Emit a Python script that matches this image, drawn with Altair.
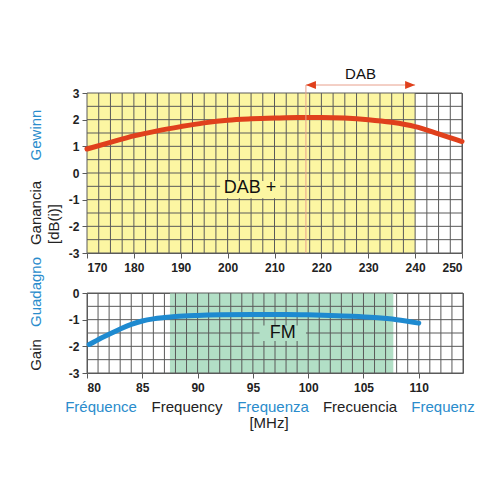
import altair as alt
import pandas as pd

# ---------------- data ----------------
dab_freq = [170, 175, 180, 185, 190, 195, 200, 205, 210, 215, 220, 225, 230, 235, 240, 245, 250]
dab_gain = [0.90, 1.15, 1.39, 1.58, 1.74, 1.88, 1.98, 2.03, 2.06, 2.08, 2.08, 2.06, 2.00, 1.90, 1.74, 1.47, 1.18]

fm_freq = [80.2, 81, 82, 83, 84, 85, 86, 87, 88, 90, 92, 95, 98, 100, 102, 104, 106, 108, 110]
fm_gain = [-1.93, -1.75, -1.55, -1.35, -1.18, -1.05, -0.97, -0.92, -0.88, -0.84, -0.82, -0.81, -0.81, -0.82, -0.84, -0.87, -0.92, -1.00, -1.13]

dab_plus_band = [170, 240]
dab_band = [216.7, 240]
fm_band = [87.5, 107.7]

dab_plus_label = ["DAB +"]
dab_plus_pos = [204.8, -0.56]
dab_plus_box = [198.4, 211.2, -0.30, -0.95]
dab_label = ["DAB"]
fm_label = ["FM"]
fm_pos = [97.7, -1.5]
fm_box = [95.6, 99.8, -1.22, -1.80]

top_x_ticks = [170, 180, 190, 200, 210, 220, 230, 240, 250]
top_y_ticks = [-3, -2, -1, 0, 1, 2, 3]
bot_x_ticks = [80, 85, 90, 95, 100, 105, 110]
bot_y_ticks = [-3, -2, -1, 0]

top_x_grid = [170 + 2.5 * i for i in range(33)]
top_y_grid = [-3 + 0.5 * i for i in range(13)]
bot_x_grid = [80 + i for i in range(35)]
bot_y_grid = [-3 + 0.5 * i for i in range(7)]

y_title_words = ["Gewinn", "Ganancia", "[dB(i)]", "Guadagno", "Gain"]
y_title_colors = ["#2a8ccc", "#222222", "#222222", "#2a8ccc", "#222222"]
x_title_words = ["Fréquence", "Frequency", "Frequenza", "Frecuencia", "Frequenz"]
x_title_colors = ["#2a8ccc", "#222222", "#2a8ccc", "#222222", "#2a8ccc"]
unit_label = "[MHz]"

# ---------------- styles ----------------
FONT = "Liberation Sans"
GRID = "#5a5a5a"
YELLOW = "#fcf6a2"
GREEN = "#b2dfc6"
RED = "#e0401c"
BLUE = "#1e8ad0"

W1, H1 = 375, 160
W2, H2 = 376, 80


def axis(vals, ylike):
    return alt.Axis(
        values=vals, title=None, grid=False, domain=False, ticks=True,
        tickSize=5, tickColor=GRID, labelPadding=3 if ylike else 4,
        labelFont=FONT, labelFontSize=12, labelFontWeight="bold",
        labelColor="#222", labelExpr="'' + datum.value",
    )


# ---------------- top panel ----------------
xs1 = alt.Scale(domain=[170, 250], nice=False, zero=False)
ys1 = alt.Scale(domain=[-3, 3], nice=False, zero=False)
xa1 = axis(top_x_ticks, False)
ya1 = axis(top_y_ticks, True)

band1 = alt.Chart(pd.DataFrame({"a": [dab_plus_band[0]], "b": [dab_plus_band[1]]})).mark_rect(
    color=YELLOW).encode(x=alt.X("a:Q", scale=xs1, axis=xa1), x2="b:Q",
                         y=alt.value(0), y2=alt.value(H1))
vgrid1 = alt.Chart(pd.DataFrame({"g": top_x_grid})).mark_rule(color=GRID, strokeWidth=1).encode(
    x=alt.X("g:Q", scale=xs1, axis=xa1))
hgrid1 = alt.Chart(pd.DataFrame({"g": top_y_grid})).mark_rule(color=GRID, strokeWidth=1).encode(
    y=alt.Y("g:Q", scale=ys1, axis=ya1))
box1 = alt.Chart(pd.DataFrame({"x0": [dab_plus_box[0]], "x1": [dab_plus_box[1]],
                               "y0": [dab_plus_box[2]], "y1": [dab_plus_box[3]]})).mark_rect(
    color=YELLOW).encode(x=alt.X("x0:Q", scale=xs1, axis=xa1), x2="x1:Q",
                         y=alt.Y("y0:Q", scale=ys1, axis=ya1), y2="y1:Q")
txt1 = alt.Chart(pd.DataFrame({"x": [dab_plus_pos[0]], "y": [dab_plus_pos[1]], "t": dab_plus_label})).mark_text(
    font=FONT, fontSize=18, color="#111").encode(
    x=alt.X("x:Q", scale=xs1, axis=xa1), y=alt.Y("y:Q", scale=ys1, axis=ya1), text="t:N")
line1 = alt.Chart(pd.DataFrame({"f": dab_freq, "g": dab_gain})).mark_line(
    color=RED, strokeWidth=5, interpolate="monotone", strokeCap="round").encode(
    x=alt.X("f:Q", scale=xs1, axis=xa1), y=alt.Y("g:Q", scale=ys1, axis=ya1))

band_df = pd.DataFrame({"a": [dab_band[0]], "b": [dab_band[1]], "t": dab_label})
vline = alt.Chart(band_df).mark_rule(color="#e8a08c", strokeWidth=1).encode(
    x=alt.X("a:Q", scale=xs1, axis=xa1), y=alt.value(-8), y2=alt.value(H1))
arrow = alt.Chart(band_df).mark_rule(color="#e8a08c", strokeWidth=1).encode(
    x=alt.X("a:Q", scale=xs1, axis=xa1), x2="b:Q", y=alt.value(-8))
head_l = alt.Chart(band_df).mark_point(
    shape="M0,0L2,-0.8L2,0.8Z", filled=True, size=100, color=RED, opacity=1).encode(
    x=alt.X("a:Q", scale=xs1, axis=xa1), y=alt.value(-8))
head_r = alt.Chart(band_df).mark_point(
    shape="M0,0L-2,-0.8L-2,0.8Z", filled=True, size=100, color=RED, opacity=1).encode(
    x=alt.X("b:Q", scale=xs1, axis=xa1), y=alt.value(-8))
dab_txt = alt.Chart(band_df).transform_calculate(m="(datum.a + datum.b) / 2").mark_text(
    font=FONT, fontSize=15, color="#111").encode(
    x=alt.X("m:Q", scale=xs1, axis=xa1), y=alt.value(-19), text="t:N")

# rotated y-titles (positions relative to top plot area)
ytitle_pos = [(-51, 42), (-51, 120), (-33, 131), (-51, 199), (-51, 262)]
ytitles = []
for word, col, (px, py) in zip(y_title_words, y_title_colors, ytitle_pos):
    ytitles.append(
        alt.Chart(pd.DataFrame({"t": [word]})).mark_text(
            font=FONT, fontSize=15, color=col, angle=270, align="center", baseline="middle").encode(
            x=alt.value(px), y=alt.value(py), text="t:N"))

top = alt.layer(band1, vgrid1, hgrid1, box1, txt1, line1, vline, arrow, head_l, head_r, dab_txt,
                *ytitles).properties(width=W1, height=H1)

# ---------------- bottom panel ----------------
xs2 = alt.Scale(domain=[80, 114], nice=False, zero=False)
ys2 = alt.Scale(domain=[-3, 0], nice=False, zero=False)
xa2 = axis(bot_x_ticks, False)
ya2 = axis(bot_y_ticks, True)

band2 = alt.Chart(pd.DataFrame({"a": [fm_band[0]], "b": [fm_band[1]]})).mark_rect(
    color=GREEN).encode(x=alt.X("a:Q", scale=xs2, axis=xa2), x2="b:Q",
                        y=alt.value(0), y2=alt.value(H2))
vgrid2 = alt.Chart(pd.DataFrame({"g": bot_x_grid})).mark_rule(color=GRID, strokeWidth=1).encode(
    x=alt.X("g:Q", scale=xs2, axis=xa2))
hgrid2 = alt.Chart(pd.DataFrame({"g": bot_y_grid})).mark_rule(color=GRID, strokeWidth=1).encode(
    y=alt.Y("g:Q", scale=ys2, axis=ya2))
box2 = alt.Chart(pd.DataFrame({"x0": [fm_box[0]], "x1": [fm_box[1]],
                               "y0": [fm_box[2]], "y1": [fm_box[3]]})).mark_rect(
    color=GREEN).encode(x=alt.X("x0:Q", scale=xs2, axis=xa2), x2="x1:Q",
                        y=alt.Y("y0:Q", scale=ys2, axis=ya2), y2="y1:Q")
txt2 = alt.Chart(pd.DataFrame({"x": [fm_pos[0]], "y": [fm_pos[1]], "t": fm_label})).mark_text(
    font=FONT, fontSize=18, color="#111").encode(
    x=alt.X("x:Q", scale=xs2, axis=xa2), y=alt.Y("y:Q", scale=ys2, axis=ya2), text="t:N")
line2 = alt.Chart(pd.DataFrame({"f": fm_freq, "g": fm_gain})).mark_line(
    color=BLUE, strokeWidth=5, interpolate="monotone", strokeCap="round").encode(
    x=alt.X("f:Q", scale=xs2, axis=xa2), y=alt.Y("g:Q", scale=ys2, axis=ya2))

xtitle_pos = [14, 100, 186, 273, 356]
xtitles = []
for word, col, px in zip(x_title_words, x_title_colors, xtitle_pos):
    xtitles.append(
        alt.Chart(pd.DataFrame({"t": [word]})).mark_text(
            font=FONT, fontSize=15, color=col, align="center", baseline="middle").encode(
            x=alt.value(px), y=alt.value(114), text="t:N"))
xtitles.append(
    alt.Chart(pd.DataFrame({"t": [unit_label]})).mark_text(
        font=FONT, fontSize=15, color="#222", align="center", baseline="middle").encode(
        x=alt.value(182), y=alt.value(130), text="t:N"))

bottom = alt.layer(band2, vgrid2, hgrid2, box2, txt2, line2, *xtitles).properties(width=W2, height=H2)

chart = alt.vconcat(top, bottom, spacing=40, bounds="flush").properties(
    padding={"left": 20, "top": 58, "right": 0, "bottom": 0}
).configure_view(stroke=GRID, strokeWidth=1)

chart.save("out.html", embed_options={"renderer": "svg", "actions": False})
